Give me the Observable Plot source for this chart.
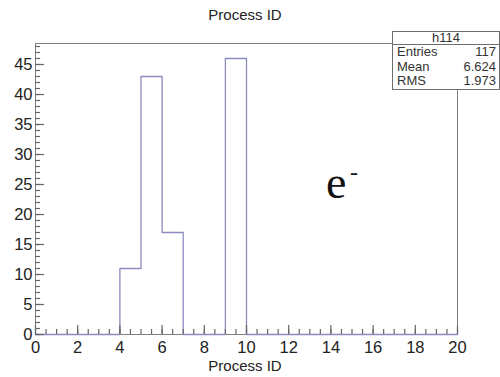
<!DOCTYPE html>
<html>
<head>
<meta charset="utf-8">
<script src="https://cdn.jsdelivr.net/npm/d3@7"></script>
<script src="https://cdn.jsdelivr.net/npm/@observablehq/plot@0.6"></script>
<style>
  html, body { margin: 0; padding: 0; background: #fff; }
  #wrap { position: relative; width: 500px; height: 377px; font-family: "Liberation Sans", Arial, sans-serif; }
  #stats { position: absolute; left: 392px; top: 31px; width: 106px; height: 57px; background: #fff; border: 1px solid #6e6e6e; font-size: 13px; color: #333; box-sizing: content-box; }
  #stats .hdr { text-align: center; height: 12px; line-height: 12px; border-bottom: 1px solid #6e6e6e; }
  #stats .row { display: flex; justify-content: space-between; padding: 0 3px 0 4px; height: 14.5px; line-height: 14.5px; }
  #ann { position: absolute; left: 326px; top: 160px; font-family: "Liberation Serif", "DejaVu Serif", serif; font-size: 46px; line-height: 1; color: #111; }
  #ann span { position: absolute; left: 24px; top: 0px; font-size: 24px; line-height: 1; }
</style>
</head>
<body>
<div id="wrap"></div>
<script>
// Histogram data (bin lower edges, counts)
const binEdges = [4, 5, 6, 9];
const counts = [11, 43, 17, 46];
const xTicks = [0, 2, 4, 6, 8, 10, 12, 14, 16, 18, 20];
const yTicks = [0, 5, 10, 15, 20, 25, 30, 35, 40, 45];
const xMinor = d3.range(0, 20.01, 0.5);
const yMinor = d3.range(0, 48.01, 1);
const statsName = "h114";
const statsLabels = ["Entries", "Mean", "RMS"];
const statsValues = ["117", "6.624", "1.973"];
const titleText = "Process ID";
const xLabel = "Process ID";
const particle = "e";

// Build step outline from bins (0..20, width 1)
const full = d3.range(0, 20).map(i => {
  const k = binEdges.indexOf(i);
  return k >= 0 ? counts[k] : 0;
});
const stepData = full.map((c, i) => ({x: i, y: c}));
stepData.push({x: 20, y: full[19]});

const W = 500, H = 377, mL = 35, mR = 43, mT = 43, mB = 43;
const xDom = [0, 20], yDom = [0, 48.5];
// pixel -> data unit conversions for tick lengths
const pxX = (xDom[1] - xDom[0]) / (W - mL - mR);
const pxY = (yDom[1] - yDom[0]) / (H - mT - mB);

const axisCol = "#666666";
const yTickRows = yTicks.map(v => ({v, a: 0, b: 9 * pxX}));
const yMinorRows = yMinor.map(v => ({v, a: 0, b: 5 * pxX}));

const chart = Plot.plot({
  width: W,
  height: H,
  marginLeft: mL,
  marginRight: mR,
  marginTop: mT,
  marginBottom: mB,
  style: {fontFamily: "'Liberation Sans', Arial, sans-serif", fontSize: "16px", color: "#222", background: "#fff"},
  x: {domain: xDom},
  y: {domain: yDom},
  marks: [
    Plot.frame({stroke: "#808080"}),
    Plot.line(stepData, {x: "x", y: "y", curve: "step-after", stroke: "#8c8cc0", strokeWidth: 1.3}),
    // ticks (inward)
    Plot.ruleX(xMinor, {x: d => d, y1: 0, y2: 5 * pxY, stroke: axisCol, strokeWidth: 1.2}),
    Plot.ruleX(xTicks, {x: d => d, y1: 0, y2: 9 * pxY, stroke: axisCol, strokeWidth: 1.2}),
    Plot.ruleY(yMinorRows, {y: "v", x1: "a", x2: "b", stroke: axisCol, strokeWidth: 1.2}),
    Plot.ruleY(yTickRows, {y: "v", x1: "a", x2: "b", stroke: axisCol, strokeWidth: 1.2}),
    // labels
    Plot.axisX({ticks: xTicks, tickSize: 0, tickPadding: 7, fill: "#222", fontSize: 16.5, label: null}),
    Plot.axisY({ticks: yTicks, tickSize: 0, tickPadding: 3, fill: "#222", fontSize: 16.5, label: null})
  ]
});

const wrap = document.getElementById("wrap");
wrap.appendChild(chart);

const t = document.createElement("div");
t.textContent = titleText;
t.style.cssText = "position:absolute;left:0;width:490px;top:6px;text-align:center;font-size:15px;color:#222;";
wrap.appendChild(t);

const xl = document.createElement("div");
xl.textContent = xLabel;
xl.style.cssText = "position:absolute;left:0;width:490px;top:357px;text-align:center;font-size:15px;color:#222;";
wrap.appendChild(xl);

const st = document.createElement("div");
st.id = "stats";
let html = `<div class="hdr">${statsName}</div>`;
statsLabels.forEach((l, i) => { html += `<div class="row"><span>${l}</span><span>${statsValues[i]}</span></div>`; });
st.innerHTML = html;
wrap.appendChild(st);

const ann = document.createElement("div");
ann.id = "ann";
ann.innerHTML = `${particle}<span>-</span>`;
wrap.appendChild(ann);
</script>
</body>
</html>
